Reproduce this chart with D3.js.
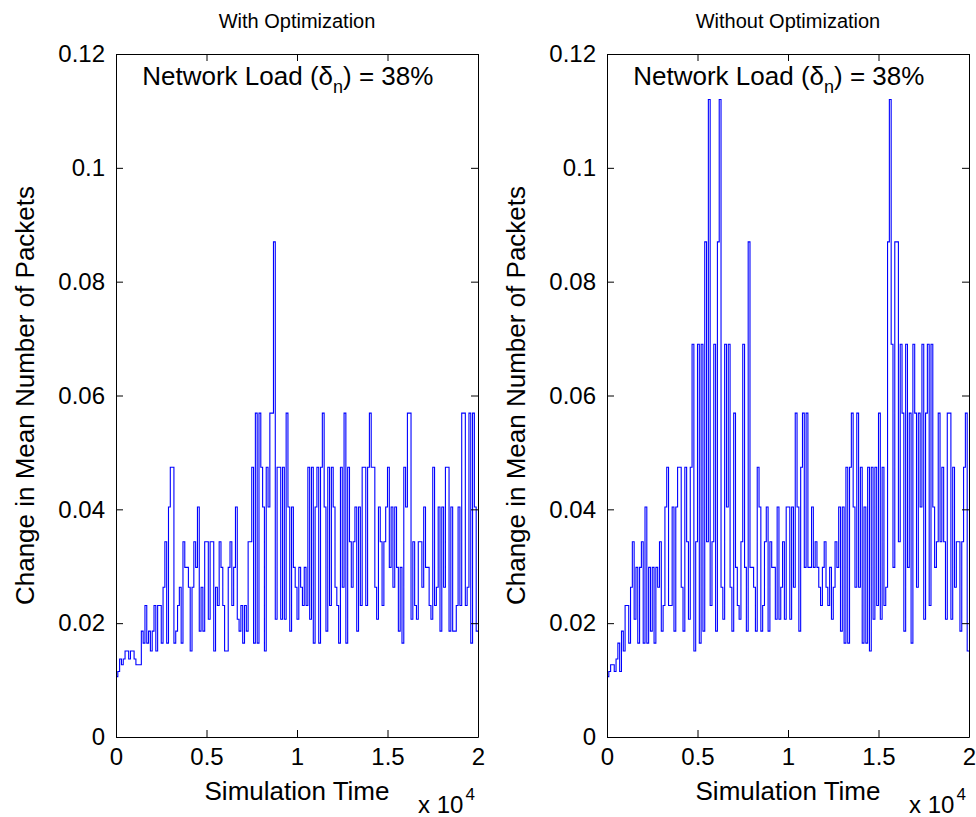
<!DOCTYPE html>
<html>
<head>
<meta charset="utf-8">
<script src="https://cdn.jsdelivr.net/npm/d3@7/dist/d3.min.js"></script>
<style>
body { margin: 0; background: #fff; }
text { font-family: "Liberation Sans", Arial, Helvetica, sans-serif; fill: #000; }
</style>
</head>
<body>
<div id="chart"></div>
<script>
var panelTitles = ["With Optimization", "Without Optimization"];
var xTicks = [0, 5000, 10000, 15000, 20000];
var xTickLabels = ["0", "0.5", "1", "1.5", "2"];
var yTicks = [0, 0.02, 0.04, 0.06, 0.08, 0.1, 0.12];
var yTickLabels = ["0", "0.02", "0.04", "0.06", "0.08", "0.1", "0.12"];
var sampleStep = 100; // simulation time between two samples
var simEnd = 20000;

// change in mean number of packets, one value per sample
var withOpt = [
  0.0106, 0.0115, 0.0137, 0.0127, 0.0137, 0.0151, 0.0151, 0.0137, 0.0151, 0.0151,
  0.0137, 0.0127, 0.0127, 0.0127, 0.0186, 0.0165, 0.0231, 0.0165, 0.0186, 0.0151,
  0.0186, 0.0231, 0.0151, 0.0231, 0.0231, 0.0165, 0.0263, 0.0343, 0.0165, 0.0404,
  0.0474, 0.0474, 0.0165, 0.0186, 0.0231, 0.0263, 0.0165, 0.0343, 0.0298, 0.0298,
  0.0263, 0.0151, 0.0263, 0.0343, 0.0298, 0.0404, 0.0186, 0.0263, 0.0186, 0.0343,
  0.0343, 0.0207, 0.0343, 0.0343, 0.0151, 0.0263, 0.0231, 0.0343, 0.0298, 0.0231,
  0.0151, 0.0151, 0.0298, 0.0343, 0.0231, 0.0298, 0.0404, 0.0207, 0.0186, 0.0231,
  0.0165, 0.0231, 0.0186, 0.0343, 0.0343, 0.0474, 0.0165, 0.0569, 0.0165, 0.0569,
  0.0474, 0.0404, 0.0151, 0.0474, 0.0404, 0.0569, 0.0569, 0.087, 0.0207, 0.0474,
  0.0474, 0.0207, 0.0474, 0.0207, 0.0569, 0.0404, 0.0186, 0.0404, 0.0298, 0.0263,
  0.0207, 0.0298, 0.0263, 0.0231, 0.0298, 0.0231, 0.0474, 0.0207, 0.0474, 0.0165,
  0.0404, 0.0474, 0.0165, 0.0474, 0.0569, 0.0404, 0.0186, 0.0474, 0.0231, 0.0474,
  0.0404, 0.0263, 0.0231, 0.0165, 0.0474, 0.0263, 0.0569, 0.0165, 0.0474, 0.0343,
  0.0263, 0.0343, 0.0404, 0.0186, 0.0404, 0.0231, 0.0474, 0.0474, 0.0231, 0.0474,
  0.0569, 0.0474, 0.0474, 0.0263, 0.0207, 0.0404, 0.0343, 0.0231, 0.0343, 0.0404,
  0.0474, 0.0298, 0.0404, 0.0263, 0.0404, 0.0298, 0.0186, 0.0298, 0.0165, 0.0474,
  0.0404, 0.0569, 0.0569, 0.0207, 0.0343, 0.0231, 0.0207, 0.0343, 0.0343, 0.0263,
  0.0404, 0.0298, 0.0298, 0.0231, 0.0207, 0.0474, 0.0231, 0.0263, 0.0404, 0.0186,
  0.0404, 0.0263, 0.0474, 0.0474, 0.0186, 0.0404, 0.0186, 0.0186, 0.0231, 0.0404,
  0.0231, 0.0569, 0.0569, 0.0231, 0.0263, 0.0569, 0.0165, 0.0569, 0.0404, 0.0186
];

var withoutOpt = [
  0.0106, 0.0115, 0.0127, 0.0127, 0.0115, 0.0137, 0.0165, 0.0115, 0.0186, 0.0151,
  0.0231, 0.0231, 0.0165, 0.0263, 0.0343, 0.0207, 0.0298, 0.0165, 0.0298, 0.0343,
  0.0165, 0.0404, 0.0165, 0.0298, 0.0186, 0.0298, 0.0165, 0.0298, 0.0263, 0.0343,
  0.0186, 0.0231, 0.0404, 0.0474, 0.0231, 0.0231, 0.0404, 0.0186, 0.0404, 0.0474,
  0.0474, 0.0263, 0.0186, 0.0474, 0.0343, 0.0207, 0.0474, 0.069, 0.0151, 0.0343,
  0.069, 0.0165, 0.069, 0.0186, 0.087, 0.0343, 0.112, 0.0231, 0.0343, 0.069,
  0.0186, 0.087, 0.112, 0.0263, 0.0207, 0.069, 0.0404, 0.069, 0.0263, 0.0186,
  0.0569, 0.0298, 0.0231, 0.0207, 0.0343, 0.069, 0.0298, 0.0186, 0.087, 0.0298,
  0.0298, 0.0263, 0.0186, 0.0474, 0.0404, 0.0186, 0.0231, 0.0343, 0.0404, 0.0186,
  0.0343, 0.0298, 0.0298, 0.0207, 0.0404, 0.0207, 0.0263, 0.0343, 0.0207, 0.0404,
  0.0404, 0.0207, 0.0404, 0.0263, 0.0569, 0.0404, 0.0186, 0.0474, 0.0569, 0.0298,
  0.0569, 0.0298, 0.0298, 0.0404, 0.0298, 0.0343, 0.0298, 0.0263, 0.0231, 0.0298,
  0.0343, 0.0263, 0.0231, 0.0298, 0.0207, 0.0263, 0.0343, 0.0298, 0.0404, 0.0186,
  0.0404, 0.0165, 0.0474, 0.0165, 0.0474, 0.0569, 0.0404, 0.0263, 0.0569, 0.0263,
  0.0474, 0.0165, 0.0404, 0.0165, 0.0474, 0.0151, 0.0474, 0.0207, 0.0474, 0.0231,
  0.0569, 0.0207, 0.0474, 0.0231, 0.0263, 0.087, 0.112, 0.069, 0.0298, 0.087,
  0.087, 0.0343, 0.069, 0.0569, 0.0186, 0.069, 0.0298, 0.0569, 0.0165, 0.069,
  0.0569, 0.0263, 0.0569, 0.0404, 0.069, 0.0207, 0.0569, 0.069, 0.0231, 0.069,
  0.0404, 0.0298, 0.0343, 0.0569, 0.0343, 0.0474, 0.0343, 0.0207, 0.0569, 0.0569,
  0.0207, 0.0474, 0.0263, 0.0343, 0.0343, 0.0186, 0.0343, 0.0474, 0.0569, 0.0151
];

(function() {
    var width = 976,
        height = 817;

    var panelLefts = [116, 607],
        panelWidth = 362,
        top = 54,
        bottom = 737,
        tickLen = 7;

    var svg = d3.select("#chart")
        .append("svg")
        .attr("width", width)
        .attr("height", height);

    svg.append("rect")
        .attr("width", width)
        .attr("height", height)
        .attr("fill", "white");

    var y = d3.scaleLinear().domain([0, 0.12]).range([bottom, top]);

    var series = [withOpt, withoutOpt];

    series.forEach(function(values, p) {
        var left = panelLefts[p];
        var x = d3.scaleLinear().domain([0, simEnd]).range([left, left + panelWidth]);

        var points = values.map(function(v, i) { return [i * sampleStep, v]; });
        points.push([simEnd, values[values.length - 1]]);

        var line = d3.line()
            .curve(d3.curveStepAfter)
            .x(function(d) { return x(d[0]); })
            .y(function(d) { return y(d[1]); });

        var g = svg.append("g");

        g.append("path")
            .datum(points)
            .attr("fill", "none")
            .attr("stroke", "#0000ff")
            .attr("stroke-width", 1.1)
            .attr("d", line);

        // axes, ticks pointing inward
        g.append("g")
            .attr("transform", "translate(0," + bottom + ")")
            .call(d3.axisBottom(x).tickValues(xTicks)
                .tickFormat(function(d, i) { return xTickLabels[i]; })
                .tickSizeInner(-tickLen).tickSizeOuter(0).tickPadding(11));

        g.append("g")
            .attr("transform", "translate(0," + top + ")")
            .call(d3.axisTop(x).tickValues(xTicks).tickFormat("")
                .tickSizeInner(-tickLen).tickSizeOuter(0));

        g.append("g")
            .attr("transform", "translate(" + left + ",0)")
            .call(d3.axisLeft(y).tickValues(yTicks)
                .tickFormat(function(d, i) { return yTickLabels[i]; })
                .tickSizeInner(-tickLen).tickSizeOuter(0).tickPadding(11));

        g.append("g")
            .attr("transform", "translate(" + (left + panelWidth) + ",0)")
            .call(d3.axisRight(y).tickValues(yTicks).tickFormat("")
                .tickSizeInner(-tickLen).tickSizeOuter(0));

        g.selectAll(".domain, .tick line").attr("stroke", "#000");
        g.selectAll(".tick text")
            .attr("font-size", 24)
            .attr("fill", "#000");
        g.selectAll("g").attr("font-family", null);

        g.append("text")
            .attr("x", left + panelWidth / 2)
            .attr("y", 28)
            .attr("text-anchor", "middle")
            .attr("font-size", 20)
            .text(panelTitles[p]);

        var note = g.append("text")
            .attr("x", x(1450))
            .attr("y", 85)
            .attr("font-size", 26);
        note.append("tspan").text("Network Load (\u03b4");
        note.append("tspan").attr("font-size", 18).attr("dy", 8).text("n");
        note.append("tspan").attr("dy", -8).text(") = 38%");

        g.append("text")
            .attr("x", left + panelWidth / 2)
            .attr("y", 800)
            .attr("text-anchor", "middle")
            .attr("font-size", 26)
            .text("Simulation Time");

        var mult = g.append("text")
            .attr("x", left + panelWidth - 60)
            .attr("y", 813)
            .attr("font-size", 24);
        mult.append("tspan").text("x 10");
        mult.append("tspan").attr("font-size", 17).attr("dy", -13).attr("dx", 2).text("4");

        g.append("text")
            .attr("transform", "translate(" + (left - 82) + "," + ((top + bottom) / 2) + ") rotate(-90)")
            .attr("text-anchor", "middle")
            .attr("font-size", 26)
            .text("Change in Mean Number of Packets");
    });
})();
</script>
</body>
</html>
